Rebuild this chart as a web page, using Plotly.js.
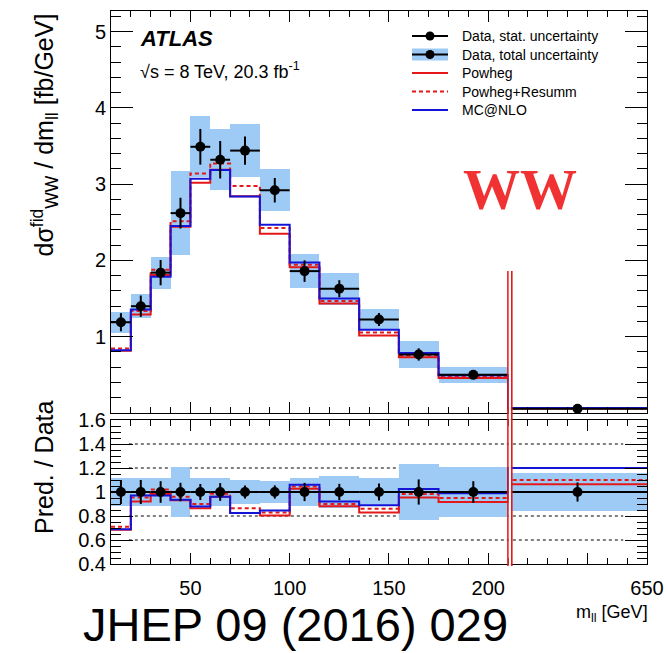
<!DOCTYPE html>
<html>
<head>
<meta charset="utf-8">
<script src="https://cdn.plot.ly/plotly-3.0.1.min.js"></script>
<style>
  html, body { margin: 0; padding: 0; background: #fff; }
  #chart { width: 668px; height: 653px; }
</style>
</head>
<body>
<div id="chart"></div>
<script>
// WW fiducial differential cross section vs m_ll, 8 TeV, 20.3 fb^-1
const massEdges    = [10, 20, 30, 40, 50, 60, 70, 85, 100, 115, 135, 155, 175, 210, 650];
const dataXsec     = [1.19, 1.40, 1.84, 2.62, 3.49, 3.32, 3.44, 2.92, 1.86, 1.63, 1.225, 0.767, 0.50, 0.055];
const statRel      = [0.10, 0.10, 0.09, 0.077, 0.067, 0.074, 0.054, 0.055, 0.076, 0.068, 0.07, 0.105, 0.09, 0.08];
const totalRel     = [0.115, 0.115, 0.115, 0.21, 0.115, 0.12, 0.10, 0.095, 0.12, 0.13, 0.115, 0.235, 0.205, 0.16];
const powheg       = [0.815, 1.29, 1.81, 2.44, 3.02, 3.19, 2.84, 2.35, 1.91, 1.435, 1.017, 0.732, 0.458, 0.0586];
const powhegResumm = [0.845, 1.337, 1.877, 2.515, 3.14, 3.27, 2.975, 2.424, 1.944, 1.467, 1.054, 0.755, 0.475, 0.0605];
const mcatnlo      = [0.821, 1.358, 1.785, 2.45, 3.07, 3.187, 2.838, 2.467, 1.972, 1.50, 1.09, 0.786, 0.495, 0.066];

const xTickVals   = [50, 100, 150, 200, 250, 280];
const xTickText   = ['50', '100', '150', '200', '', '650'];
const yTickVals   = [0, 1, 2, 3, 4, 5];
const yTickText   = ['', '1', '2', '3', '4', '5'];
const rTickVals   = [0.4, 0.6, 0.8, 1.0, 1.2, 1.4, 1.6];
const rTickText   = ['0.4', '0.6', '0.8', '1', '1.2', '1.4', '1.6'];
const rGridVals   = [0.6, 0.8, 1.2, 1.4];

const legendLabels = ['Data, stat. uncertainty', 'Data, total uncertainty', 'Powheg', 'Powheg+Resumm', 'MC@NLO'];

// The last bin (210-650 GeV) is drawn compressed into 210-280 on the axis
const BREAK = 210, AXIS_END = 280, LAST_EDGE = 650;
function toAxis(m) {
  return m <= BREAK ? m : BREAK + (m - BREAK) * (AXIS_END - BREAK) / (LAST_EDGE - BREAK);
}

const RED = 'rgb(228,24,24)';
const BLUE = 'rgb(20,20,215)';
const BAND = '#9ecbf6';
const FONT = 'Liberation Sans, Arial, sans-serif';

const edgesAx = massEdges.map(toAxis);
const nb = dataXsec.length;
const centers = [], halfW = [], widths = [];
for (let i = 0; i < nb; i++) {
  centers.push((edgesAx[i] + edgesAx[i + 1]) / 2);
  widths.push(edgesAx[i + 1] - edgesAx[i]);
  halfW.push((edgesAx[i + 1] - edgesAx[i]) / 2);
}

function stepY(vals) { return vals.concat([vals[vals.length - 1]]); }
function ratio(vals) { return vals.map((v, i) => v / dataXsec[i]); }

function histTrace(vals, color, dash, xa, ya) {
  return {
    type: 'scatter', mode: 'lines', x: edgesAx, y: stepY(vals),
    line: { shape: 'hv', color: color, width: 2, dash: dash },
    xaxis: xa, yaxis: ya, hoverinfo: 'skip', showlegend: false
  };
}

const traces = [
  // total uncertainty band, top panel
  {
    type: 'bar', x: centers, width: widths,
    base: dataXsec.map((d, i) => d * (1 - totalRel[i])),
    y: dataXsec.map((d, i) => 2 * d * totalRel[i]),
    marker: { color: BAND, line: { width: 0 } },
    xaxis: 'x', yaxis: 'y', hoverinfo: 'skip', showlegend: false
  },
  // total uncertainty band, ratio panel
  {
    type: 'bar', x: centers, width: widths,
    base: totalRel.map(r => 1 - r),
    y: totalRel.map(r => 2 * r),
    marker: { color: BAND, line: { width: 0 } },
    xaxis: 'x2', yaxis: 'y2', hoverinfo: 'skip', showlegend: false
  },
  histTrace(powheg, RED, 'solid', 'x', 'y'),
  histTrace(powhegResumm, RED, '4px,3px', 'x', 'y'),
  histTrace(mcatnlo, BLUE, 'solid', 'x', 'y'),
  histTrace(ratio(powheg), RED, 'solid', 'x2', 'y2'),
  histTrace(ratio(powhegResumm), RED, '4px,3px', 'x2', 'y2'),
  histTrace(ratio(mcatnlo), BLUE, 'solid', 'x2', 'y2'),
  // data with statistical uncertainty
  {
    type: 'scatter', mode: 'markers', x: centers, y: dataXsec,
    marker: { color: '#000', size: 10 },
    error_x: { type: 'data', array: halfW, thickness: 2, width: 0, color: '#000' },
    error_y: { type: 'data', array: dataXsec.map((d, i) => d * statRel[i]), thickness: 2, width: 0, color: '#000' },
    xaxis: 'x', yaxis: 'y', hoverinfo: 'skip', showlegend: false
  },
  {
    type: 'scatter', mode: 'markers', x: centers, y: dataXsec.map(() => 1),
    marker: { color: '#000', size: 10 },
    error_x: { type: 'data', array: halfW, thickness: 2, width: 0, color: '#000' },
    error_y: { type: 'data', array: statRel, thickness: 2, width: 0, color: '#000' },
    xaxis: 'x2', yaxis: 'y2', hoverinfo: 'skip', showlegend: false
  }
];

// page geometry
const W = 668, H = 653, ML = 111, MR = 21, MT = 11, MB = 89;
const plotW = W - ML - MR, plotH = H - MT - MB;
const px = v => (v - ML) / plotW;
const py = v => (H - MB - v) / plotH;

const tickFont = { family: FONT, size: 20, color: '#000' };

function xAxisDef(anchor, labels) {
  return {
    domain: [0, 1], range: [10, AXIS_END], anchor: anchor,
    tickmode: 'array', tickvals: xTickVals, ticktext: xTickText,
    showticklabels: labels, tickfont: tickFont, ticklabelstandoff: 6,
    ticks: 'inside', ticklen: 11, tickwidth: 1, tickcolor: '#000',
    minor: { tickmode: 'linear', tick0: 10, dtick: 10, ticks: 'inside', ticklen: 6, tickwidth: 1, tickcolor: '#000', showgrid: false },
    showline: true, linecolor: '#000', linewidth: 1, mirror: 'allticks',
    showgrid: false, zeroline: false, fixedrange: true
  };
}
function yAxisDef(anchor, domain, range, vals, text, minorStep) {
  return {
    domain: domain, range: range, anchor: anchor,
    tickmode: 'array', tickvals: vals, ticktext: text, tickfont: tickFont,
    ticks: 'inside', ticklen: 22, tickwidth: 1, tickcolor: '#000',
    minor: { tickmode: 'linear', tick0: range[0], dtick: minorStep, ticks: 'inside', ticklen: 10, tickwidth: 1, tickcolor: '#000', showgrid: false },
    showline: true, linecolor: '#000', linewidth: 1, mirror: 'allticks',
    showgrid: false, zeroline: false, fixedrange: true
  };
}

const shapes = [];
// dotted reference lines in the ratio panel
rGridVals.forEach(v => shapes.push({
  type: 'line', xref: 'x2', yref: 'y2', x0: 19, x1: 268, y0: v, y1: v,
  line: { color: '#000', width: 1, dash: 'dot' }, layer: 'below'
}));
// axis break marker between the last two bins
const brkTop = py(271), brkBot = py(566);
[BREAK - 0.05, BREAK + 1.9].forEach(x => shapes.push({
  type: 'line', xref: 'x', yref: 'paper', x0: x, x1: x, y0: brkBot, y1: brkTop,
  line: { color: RED, width: 1.6 }
}));
shapes.push({
  type: 'line', xref: 'x', yref: 'paper', x0: BREAK + 0.93, x1: BREAK + 0.93, y0: brkBot, y1: brkTop,
  line: { color: '#fff', width: 2 }
});

// legend block
const legRows = [36, 54.5, 73, 91.5, 110];
const symX0 = 412, symX1 = 448, symC = 430, dotR = 4.5;
shapes.push({ type: 'rect', xref: 'paper', yref: 'paper', x0: px(symX0), x1: px(symX1),
  y0: py(legRows[1] + 6), y1: py(legRows[1] - 6), fillcolor: BAND, line: { width: 0 } });
[0, 1].forEach(r => {
  shapes.push({ type: 'line', xref: 'paper', yref: 'paper', x0: px(symX0), x1: px(symX1),
    y0: py(legRows[r]), y1: py(legRows[r]), line: { color: '#000', width: 2 } });
  shapes.push({ type: 'circle', xref: 'paper', yref: 'paper', x0: px(symC - dotR), x1: px(symC + dotR),
    y0: py(legRows[r] + dotR), y1: py(legRows[r] - dotR), fillcolor: '#000', line: { width: 0 } });
});
[[2, RED, 'solid'], [3, RED, '4px,3px'], [4, BLUE, 'solid']].forEach(([r, c, d]) => shapes.push({
  type: 'line', xref: 'paper', yref: 'paper', x0: px(symX0), x1: px(symX1),
  y0: py(legRows[r]), y1: py(legRows[r]), line: { color: c, width: 2, dash: d }
}));

const annotations = legendLabels.map((t, i) => ({
  text: t, xref: 'paper', yref: 'paper', x: px(460), y: py(legRows[i]),
  xanchor: 'left', yanchor: 'middle', showarrow: false,
  font: { family: FONT, size: 14, color: '#000' }
}));

annotations.push(
  { text: 'ATLAS', xref: 'paper', yref: 'paper', x: px(138), y: py(38), xanchor: 'left', yanchor: 'middle',
    showarrow: false, font: { family: FONT, size: 22, color: '#000', weight: 'bold', style: 'italic' } },
  { text: '√s = 8 TeV, 20.3 fb<sup>-1</sup>', xref: 'paper', yref: 'paper', x: px(138), y: py(70),
    xanchor: 'left', yanchor: 'middle', showarrow: false, font: { family: FONT, size: 18, color: '#000' } },
  { text: 'WW', xref: 'paper', yref: 'paper', x: px(520), y: py(190), xanchor: 'center', yanchor: 'middle',
    showarrow: false, font: { family: 'Liberation Serif, Times New Roman, serif', size: 57, color: 'rgb(240,50,50)', weight: 'bold' } },
  { text: 'dσ<sup>fid</sup><sub>WW</sub> / dm<sub>ll</sub> [fb/GeV]', xref: 'paper', yref: 'paper',
    x: px(44), y: py(12), xanchor: 'center', yanchor: 'top', textangle: -90, showarrow: false,
    font: { family: FONT, size: 25, color: '#000' } },
  { text: 'Pred. / Data', xref: 'paper', yref: 'paper', x: px(44), y: py(468), xanchor: 'center', yanchor: 'middle',
    textangle: -90, showarrow: false, font: { family: FONT, size: 25, color: '#000' } },
  { text: 'm<sub>ll</sub> [GeV]', xref: 'paper', yref: 'paper', x: px(650), y: py(613), xanchor: 'right', yanchor: 'middle',
    showarrow: false, font: { family: FONT, size: 18, color: '#000' } },
  { text: 'JHEP 09 (2016) 029', xref: 'paper', yref: 'paper', x: px(295), y: py(624), xanchor: 'center', yanchor: 'middle',
    showarrow: false, font: { family: FONT, size: 47, color: '#000' } }
);

const layout = {
  width: W, height: H,
  margin: { l: ML, r: MR, t: MT, b: MB, pad: 0 },
  paper_bgcolor: '#fff', plot_bgcolor: '#fff',
  barmode: 'overlay', bargap: 0, showlegend: false,
  xaxis: xAxisDef('y', false),
  xaxis2: xAxisDef('y2', true),
  yaxis: yAxisDef('x', [py(413), 1], [0, 5.27], yTickVals, yTickText, 0.2),
  yaxis2: yAxisDef('x2', [0, py(420)], [0.4, 1.6], rTickVals, rTickText, 0.05),
  shapes: shapes, annotations: annotations
};

Plotly.newPlot('chart', traces, layout, { displayModeBar: false, staticPlot: true });
</script>
</body>
</html>
